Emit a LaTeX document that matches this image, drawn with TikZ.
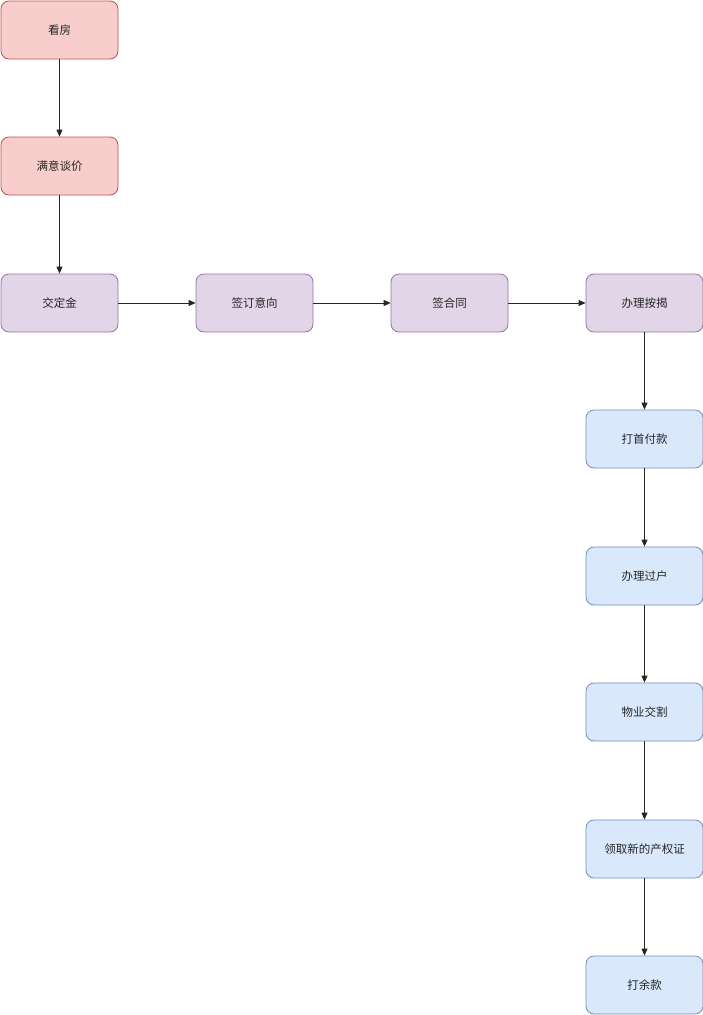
\documentclass[tikz,border=0pt]{standalone}
\usepackage{fontspec}
\newfontfamily\cjk{Noto Sans CJK SC}
\usetikzlibrary{arrows.meta}
\definecolor{rfill}{HTML}{F8CECC}\definecolor{rdraw}{HTML}{B85450}
\definecolor{pfill}{HTML}{E1D5E7}\definecolor{pdraw}{HTML}{9673A6}
\definecolor{bfill}{HTML}{DAE8FC}\definecolor{bdraw}{HTML}{6C8EBF}
\tikzset{
  box/.style={rectangle, rounded corners=8pt, minimum width=117pt, minimum height=58pt, line width=0.8pt, font=\cjk\fontsize{11.5}{14}\selectfont, text=black!85, inner sep=0pt},
  redbox/.style={box, fill=rfill, draw=rdraw},
  purplebox/.style={box, fill=pfill, draw=pdraw},
  bluebox/.style={box, fill=bfill, draw=bdraw},
  conn/.style={line width=0.8pt, draw=black!85, -{Triangle[length=7pt,width=6pt]}}
}
\begin{document}
\begin{tikzpicture}[x=1pt,y=-1pt]
\useasboundingbox (0,0) rectangle (703,1015);
\node[redbox] (a) at (59.5,30) {看房};
\node[redbox] (b) at (59.5,166) {满意谈价};
\node[purplebox] (c) at (59.5,303) {交定金};
\node[purplebox] (d) at (254.5,303) {签订意向};
\node[purplebox] (e) at (449.5,303) {签合同};
\node[purplebox] (f) at (644.5,303) {办理按揭};
\node[bluebox] (g) at (644.5,439) {打首付款};
\node[bluebox] (h) at (644.5,576) {办理过户};
\node[bluebox] (i) at (644.5,712) {物业交割};
\node[bluebox] (j) at (644.5,849) {领取新的产权证};
\node[bluebox] (k) at (644.5,985) {打余款};
\draw[conn] (a) -- (b);
\draw[conn] (b) -- (c);
\draw[conn] (c) -- (d);
\draw[conn] (d) -- (e);
\draw[conn] (e) -- (f);
\draw[conn] (f) -- (g);
\draw[conn] (g) -- (h);
\draw[conn] (h) -- (i);
\draw[conn] (i) -- (j);
\draw[conn] (j) -- (k);
\end{tikzpicture}
\end{document}
